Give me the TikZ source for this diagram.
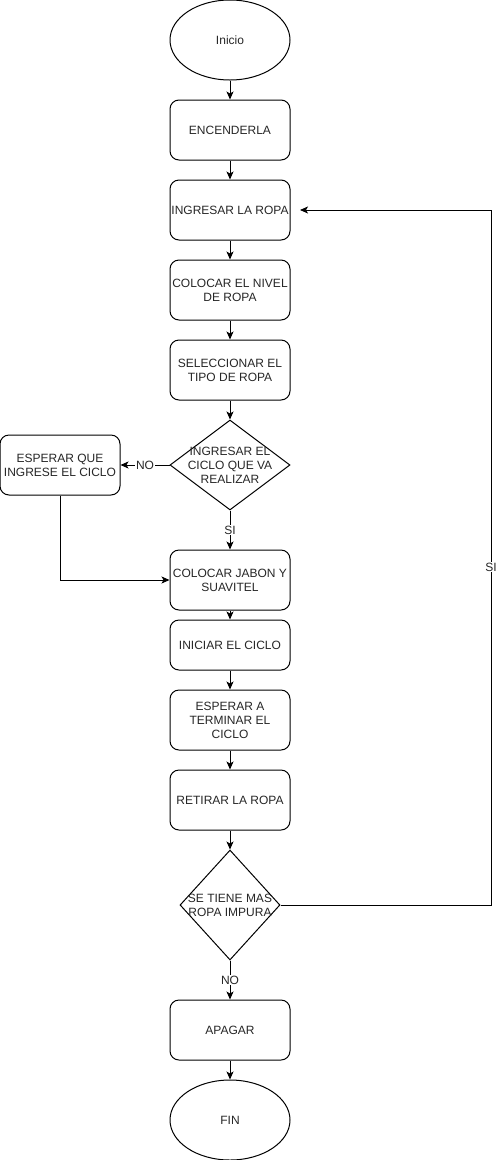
\documentclass[tikz,border=0pt]{standalone}
\usepackage{fontspec}
\setmainfont{Liberation Sans}
\usetikzlibrary{shapes.geometric,arrows.meta}
\begin{document}
\begin{tikzpicture}[x=1pt,y=-1pt,
  every node/.style={font=\fontsize{12}{14}\selectfont, align=center, text=black!85},
  term/.style={draw, line width=1pt, ellipse, minimum width=120pt, minimum height=80pt, inner sep=0pt},
  proc/.style={draw, line width=1pt, rounded corners=9pt, minimum width=120pt, minimum height=60pt, inner sep=0pt},
  dec/.style={draw, line width=1pt, diamond, inner sep=0pt},
  arr/.style={line width=1pt, -{Stealth[length=8pt,width=7pt,inset=2pt]}},
  lbl/.style={fill=white, inner sep=1pt}
]
\useasboundingbox (0,0) rectangle (499,1160);
\node[term] (ini) at (230,40) {Inicio};
\node[proc] (enc) at (230,130) {ENCENDERLA};
\node[proc] (ing) at (230,210) {INGRESAR LA ROPA};
\node[proc] (niv) at (230,290) {COLOCAR EL NIVEL\\DE ROPA};
\node[proc] (sel) at (230,370) {SELECCIONAR EL\\TIPO DE ROPA};
\node[dec, minimum width=120pt, minimum height=90pt] (d1) at (230,465) {};
\node at (d1.center) {INGRESAR EL\\CICLO QUE VA\\REALIZAR};
\node[proc] (esp) at (60,465) {ESPERAR QUE\\INGRESE EL CICLO};
\node[proc] (jab) at (230,580) {COLOCAR JABON Y\\SUAVITEL};
\node[proc, minimum height=50pt] (inc) at (230,645) {INICIAR EL CICLO};
\node[proc] (ter) at (230,720) {ESPERAR A\\TERMINAR EL\\CICLO};
\node[proc] (ret) at (230,800) {RETIRAR LA ROPA};
\node[dec, minimum width=100pt, minimum height=110pt] (d2) at (230,905) {};
\node at (d2.center) {SE TIENE MAS\\ROPA IMPURA};
\node[proc] (apa) at (230,1030) {APAGAR};
\node[term] (fin) at (230,1120) {FIN};
\coordinate (loopin) at (300,210);
\coordinate (corner) at (491,905);

\draw[arr] (ini) -- (enc);
\draw[arr] (enc) -- (ing);
\draw[arr] (ing) -- (niv);
\draw[arr] (niv) -- (sel);
\draw[arr] (sel) -- (d1);
\draw[arr] (d1.west) -- node[lbl] {NO} (esp.east);
\draw[arr] (d1.south) -- node[lbl] {SI} (jab.north);
\draw[arr] (esp.south) |- (jab.west);
\draw[arr] (jab) -- (inc);
\draw[arr] (inc) -- (ter);
\draw[arr] (ter) -- (ret);
\draw[arr] (ret) -- (d2);
\draw[arr] (d2.east) -- (corner) |- node[lbl, pos=0.243] {SI} (loopin);
\draw[arr] (d2.south) -- node[lbl] {NO} (apa.north);
\draw[arr] (apa) -- (fin);
\end{tikzpicture}
\end{document}
